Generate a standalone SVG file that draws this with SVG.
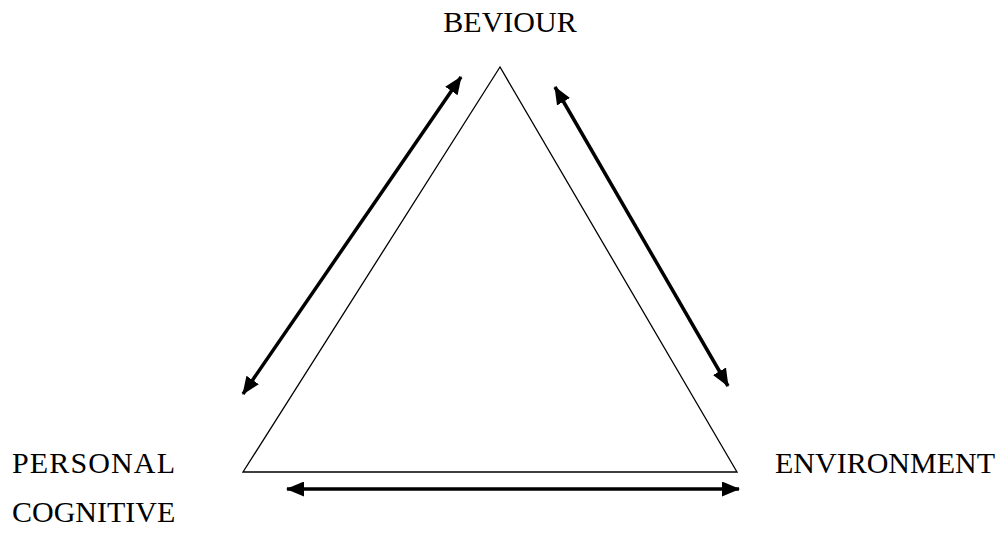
<svg xmlns="http://www.w3.org/2000/svg" width="1008" height="533" viewBox="0 0 1008 533">
<style>
text{font-family:"Liberation Serif","Times New Roman",serif;font-size:30px;fill:#000}
.tri{fill:none;stroke:#000;stroke-width:1.3}
.arr{stroke:#000;stroke-width:3.5;fill:none;marker-start:url(#ah);marker-end:url(#ah)}
</style>
<defs>
<marker id="ah" markerUnits="userSpaceOnUse" viewBox="0 0 18 15" refX="17" refY="7.5" markerWidth="18" markerHeight="15" orient="auto-start-reverse">
<path d="M0,0 L18,7.5 L0,15 Z" fill="#000"/>
</marker>
</defs>
<rect width="1008" height="533" fill="#fff"/>
<g id="triangle"><path class="tri" d="M500,67 L243,472 L737,472 Z"/></g>
<g id="beviour"><text x="510" y="32" text-anchor="middle">BEVIOUR</text></g>
<g id="personal"><text x="12" y="473" textLength="163">PERSONAL</text><text x="12" y="522">COGNITIVE</text></g>
<g id="environment"><text x="775" y="473">ENVIRONMENT</text></g>
<g id="connectors">
<line class="arr" x1="243" y1="394" x2="461" y2="77"/>
<line class="arr" x1="555" y1="87" x2="728" y2="386"/>
<line class="arr" x1="287" y1="489" x2="739" y2="489"/>
</g>
</svg>
